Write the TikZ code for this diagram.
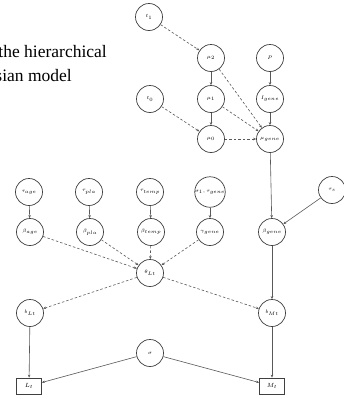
\documentclass[tikz,border=0pt]{standalone}
\usepackage{fontspec}
\setmainfont{Liberation Serif}
\usetikzlibrary{arrows.meta}
\begin{document}
\begin{tikzpicture}[x=1pt,y=-1pt,
  var/.style={circle,draw=black!75,line width=0.7pt,minimum size=27pt,inner sep=0pt,font=\fontsize{5.5}{6}\selectfont},
  obs/.style={rectangle,draw=black!75,line width=0.7pt,minimum width=25pt,minimum height=16pt,inner sep=0pt,font=\fontsize{6.5}{7}\selectfont},
  sol/.style={draw=black!65,line width=0.6pt,-{Stealth[length=3pt,width=2.5pt]}},
  dsh/.style={draw=black!65,line width=0.6pt,dash pattern=on 2.5pt off 2pt,-{Stealth[length=3pt,width=2.5pt]}},
  captext/.style={font=\fontsize{17.5}{20}\selectfont,inner sep=0pt}]
\useasboundingbox (0,0) rectangle (344,399);
\fill[white] (0,0) rectangle (344,399);
% caption fragment
\node[captext,anchor=base east] (c1) at (107,57) {the hierarchical};
\node[captext,anchor=base east] (c2) at (72,81) {Bayesian model};
% nodes
\node[var] (t1) at (149,17) {$t_1$};
\node[var] (m2) at (211,58) {$\mu_2$};
\node[var] (P) at (270,58) {$P$};
\node[var] (t0) at (150,99) {$t_0$};
\node[var] (m1) at (211,99) {$\mu_1$};
\node[var] (Ig) at (270,99) {$I_{gene}$};
\node[var] (m0) at (211,139) {$\mu_0$};
\node[var] (mg) at (270,139) {$\mu_{gene}$};
\node[var] (ta) at (29,192) {$\tau_{age}$};
\node[var] (tp) at (89,192) {$\tau_{pla}$};
\node[var] (tt) at (150,192) {$\tau_{temp}$};
\node[var] (tg) at (210,192) {$\sigma_1,\tau_{gene}$};
\node[var] (ts) at (332,190) {$\tau_s$};
\node[var] (ba) at (30,232) {$\beta_{age}$};
\node[var] (bp) at (90,232) {$\beta_{pla}$};
\node[var] (bt) at (151,232) {$\beta_{temp}$};
\node[var] (gg) at (210,232) {$\gamma_{gene}$};
\node[var] (bg) at (272,232) {$\beta_{gene}$};
\node[var] (th) at (150,273) {$\theta_{Lt}$};
\node[var] (bL) at (30,313) {$b_{Lt}$};
\node[var] (bM) at (272,313) {$b_{Mt}$};
\node[var] (sg) at (150,353) {$\sigma$};
\node[obs] (Lt) at (29,386) {$L_t$};
\node[obs] (Mt) at (272,386) {$M_t$};
% edges
\draw[dsh] (t1) -- (m2);
\draw[sol] (m2) -- (m1);
\draw[sol] (m1) -- (m0);
\draw[dsh] (t0) -- (m0);
\draw[dsh] (m2) -- (mg);
\draw[dsh] (m1) -- (mg);
\draw[dsh] (m0) -- (mg);
\draw[sol] (P) -- (Ig);
\draw[sol] (Ig) -- (mg);
\draw[sol] (mg) -- (bg);
\draw[sol] (ts) -- (bg);
\draw[sol] (bg) -- (bM);
\draw[sol] (ta) -- (ba);
\draw[sol] (tp) -- (bp);
\draw[sol] (tt) -- (bt);
\draw[sol] (tg) -- (gg);
\draw[dsh] (ba) -- (th);
\draw[dsh] (bp) -- (th);
\draw[dsh] (bt) -- (th);
\draw[dsh] (gg) -- (th);
\draw[dsh] (th) -- (bL);
\draw[dsh] (th) -- (bM);
\draw[sol] (bL) -- (Lt);
\draw[sol] (bM) -- (Mt);
\draw[sol] (sg) -- (Lt);
\draw[sol] (sg) -- (Mt);
\end{tikzpicture}
\end{document}
